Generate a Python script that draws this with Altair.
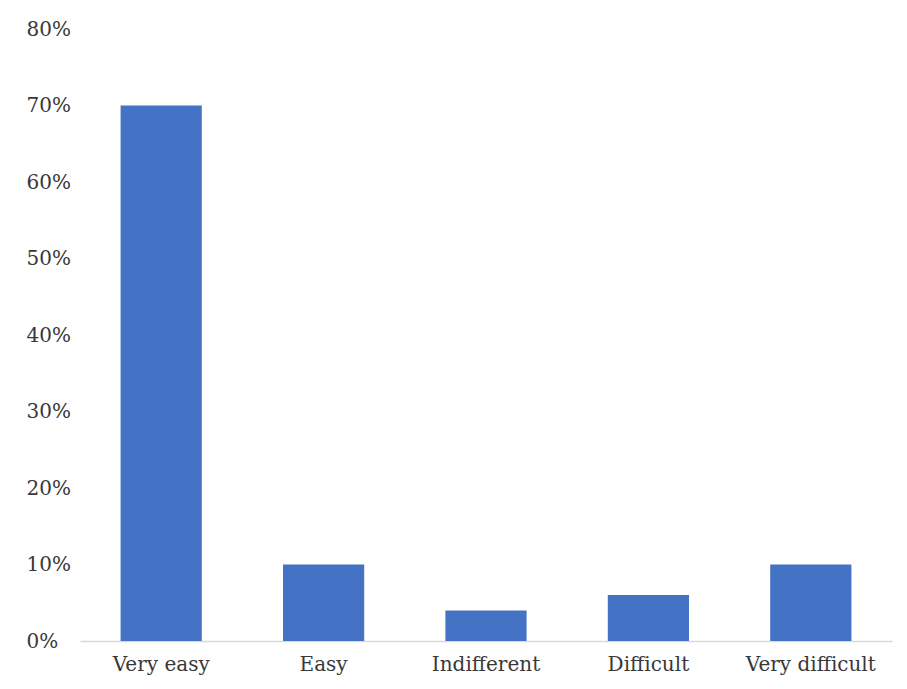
import altair as alt
import pandas as pd

categories = ["Very easy", "Easy", "Indifferent", "Difficult", "Very difficult"]
shares = [0.70, 0.10, 0.04, 0.06, 0.10]
y_ticks = [0, 0.1, 0.2, 0.3, 0.4, 0.5, 0.6, 0.7, 0.8]

df = pd.DataFrame({"category": categories, "share": shares})

FONT = "DejaVu Serif"
LABEL_COLOR = "#383838"

chart = (
    alt.Chart(df)
    .mark_bar(color="#4472C4")
    .encode(
        x=alt.X(
            "category:N",
            sort=categories,
            scale=alt.Scale(paddingInner=0.5, paddingOuter=0.25),
            axis=alt.Axis(
                title=None,
                labelAngle=0,
                ticks=False,
                tickSize=0,
                domainColor="#d9d9d9",
                domainWidth=1.5,
                labelFont=FONT,
                labelFontSize=20,
                labelColor=LABEL_COLOR,
                labelPadding=13,
            ),
        ),
        y=alt.Y(
            "share:Q",
            scale=alt.Scale(domain=[0, 0.8], nice=False),
            axis=alt.Axis(
                title=None,
                format=".0%",
                values=y_ticks,
                grid=False,
                domain=False,
                ticks=False,
                tickSize=0,
                labelAlign="left",
                labelPadding=54,
                labelFont=FONT,
                labelFontSize=20,
                labelColor=LABEL_COLOR,
            ),
        ),
    )
    .properties(
        width=812,
        height=612,
        padding={"left": 18, "top": 11, "right": 5, "bottom": 5},
        background="white",
    )
    .configure_view(stroke=None)
)

chart.save("out.html", embed_options={"renderer": "svg", "actions": False})
